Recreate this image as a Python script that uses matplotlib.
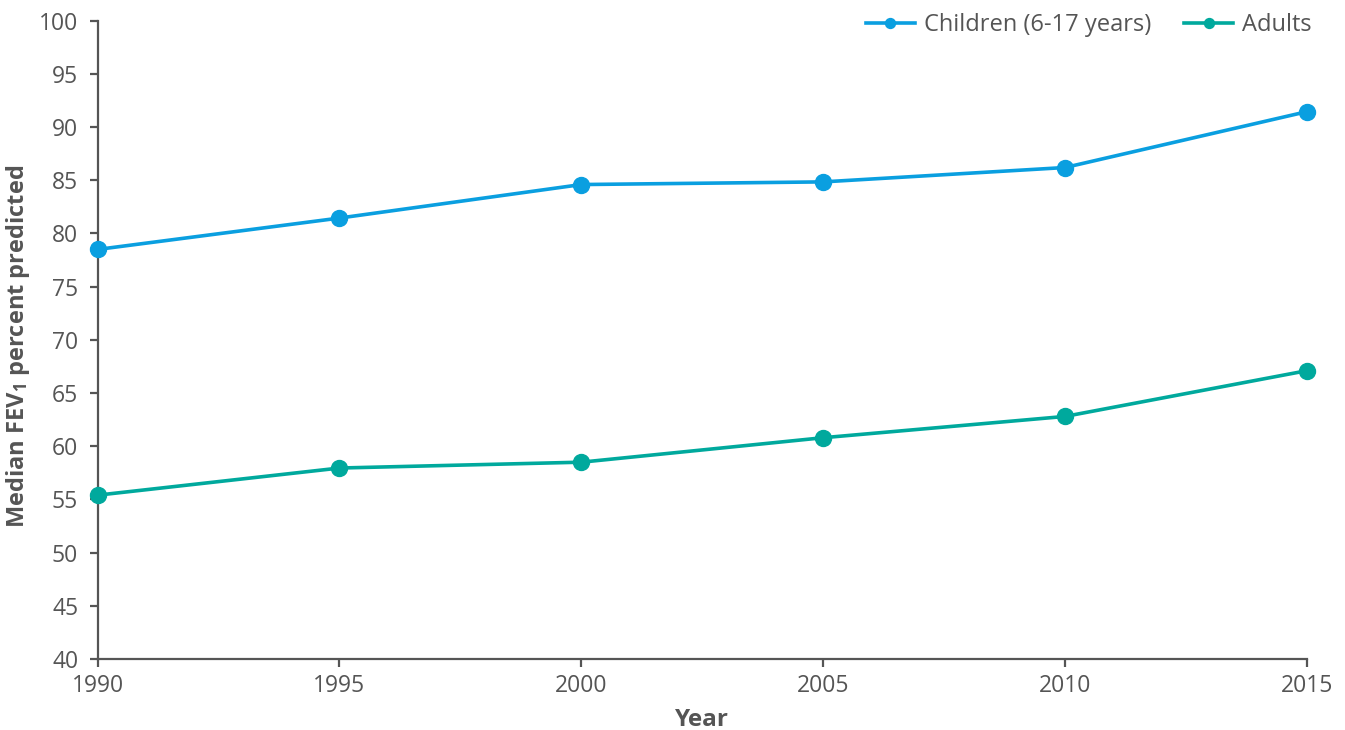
import matplotlib
matplotlib.use("Agg")
import matplotlib.pyplot as plt

years = [1990, 1995, 2000, 2005, 2010, 2015]
children = [78.5, 81.45, 84.6, 84.85, 86.2, 91.45]
adults = [55.4, 57.95, 58.5, 60.8, 62.8, 67.1]
series_labels = ["Children (6-17 years)", "Adults"]
y_ticks = list(range(40, 101, 5))

plt.rcParams['font.family'] = ['Open Sans', 'DejaVu Sans']
plt.rcParams['mathtext.fontset'] = 'custom'
plt.rcParams['mathtext.rm'] = 'Open Sans:bold'
plt.rcParams['mathtext.it'] = 'Open Sans:bold'
plt.rcParams['mathtext.bf'] = 'Open Sans:bold'

gray = '#555555'
blue = '#0A9FE0'
teal = '#00A99D'

fig = plt.figure(figsize=(13.45, 7.30), dpi=100)
ax = fig.add_axes([0.0726, 0.0973, 0.899, 0.8743])

ax.plot(years, children, color=blue, lw=2.6, marker='o', ms=11.5, clip_on=False,
        label=series_labels[0], zorder=3)
ax.plot(years, adults, color=teal, lw=2.6, marker='o', ms=11.5, clip_on=False,
        label=series_labels[1], zorder=3)

ax.set_xlim(1990, 2015)
ax.set_ylim(40, 100)
ax.set_xticks(years)
ax.set_yticks(y_ticks)

for s in ['top', 'right']:
    ax.spines[s].set_visible(False)
for s in ['left', 'bottom']:
    ax.spines[s].set_color(gray)
    ax.spines[s].set_linewidth(1.6)

ax.tick_params(axis='both', colors=gray, labelcolor=gray, labelsize=16.5,
               length=6, width=1.6)
ax.tick_params(axis='y', pad=8)
ax.tick_params(axis='x', pad=5)

ax.set_xlabel('Year', fontsize=17.5, fontweight='bold', color=gray, labelpad=7)
fig.text(18 / 1345, 1 - 346 / 730, r'Median FEV$_\mathrm{1}$ percent predicted',
         fontsize=17, fontweight='bold', color=gray, rotation=90,
         ha='center', va='center')

leg = ax.legend(loc='upper right', bbox_to_anchor=(1 - 26 / 1345, 1 - 6 / 730),
                bbox_transform=fig.transFigure,
                ncol=2, frameon=False, fontsize=17, handlelength=2.05,
                columnspacing=1.4, handletextpad=0.4, markerscale=0.62,
                borderaxespad=0, borderpad=0.3)
for t in leg.get_texts():
    t.set_color(gray)

fig.savefig('out.png', dpi=100)
